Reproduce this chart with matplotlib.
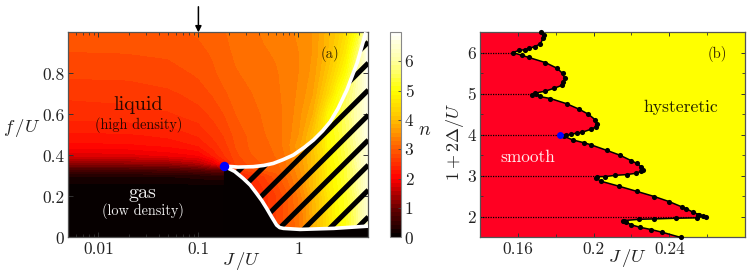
import numpy as np
import matplotlib
matplotlib.use('Agg')
import matplotlib.pyplot as plt
from matplotlib.colors import LinearSegmentedColormap
from matplotlib.patches import Polygon

plt.rcParams['font.family'] = ['cmr10', 'DejaVu Serif']
plt.rcParams['mathtext.fontset'] = 'cm'
plt.rcParams['axes.formatter.use_mathtext'] = True
plt.rcParams['axes.unicode_minus'] = False

# density n, one list per J column
J_grid = [0.005, 0.02, 0.05, 0.1, 0.14, 0.18, 0.24, 0.33, 0.45, 0.6, 0.8, 1, 1.4, 2, 2.5, 3, 4, 5]
f_grid = [0, 0.2, 0.25, 0.3, 0.33, 0.36, 0.4, 0.45, 0.5, 0.6, 0.7, 0.8, 0.9, 1.0]
n_a = [0, .02, .08, .3, .7, 1.2, 1.75, 2.1, 2.25, 2.5, 2.6, 2.75, 2.85, 2.95]
n_b = [0, .02, .08, .3, .7, 1.25, 1.8, 2.12, 2.27, 2.52, 2.62, 2.76, 2.86, 2.96]
n_c = [0, .02, .08, .3, .75, 1.3, 1.9, 2.18, 2.33, 2.55, 2.68, 2.8, 2.88, 2.97]
n_d = [0, .02, .1, .35, .85, 1.5, 2.0, 2.3, 2.45, 2.65, 2.78, 2.88, 2.95, 3.02]
n_e = [0, .03, .1, .4, 1.0, 1.8, 2.3, 2.5, 2.6, 2.75, 2.87, 2.97, 3.02, 3.07]
n_f = [0, .03, .1, .4, 1.0, 2.25, 2.55, 2.65, 2.72, 2.85, 2.97, 3.05, 3.1, 3.13]
n_g = [2.3, 2.3, 2.3, 2.3, 2.6, 2.75, 2.82, 2.88, 2.92, 3.0, 3.07, 3.13, 3.17, 3.2]
n_h = [2.3, 2.3, 2.35, 2.5, 2.8, 2.9, 2.98, 3.02, 3.03, 3.08, 3.13, 3.18, 3.22, 3.25]
n_i = [2.5, 2.5, 2.6, 2.7, 3.0, 3.02, 3.08, 3.1, 3.13, 3.16, 3.2, 3.23, 3.27, 3.3]
n_j = [2.7, 2.7, 2.8, 2.95, 3.05, 3.1, 3.15, 3.18, 3.2, 3.22, 3.25, 3.27, 3.3, 3.33]
n_k = [3.0, 3.0, 3.1, 3.2, 3.3, 3.33, 3.35, 3.4, 3.38, 3.35, 3.35, 3.35, 3.37, 3.4]
n_l = [3.2, 3.3, 3.4, 3.45, 3.5, 3.55, 3.6, 3.65, 3.55, 3.5, 3.45, 3.42, 3.42, 3.45]
n_m = [3.8, 3.9, 4.0, 4.0, 4.05, 4.05, 4.05, 4.1, 4.1, 3.85, 3.7, 3.62, 3.58, 3.58]
n_n = [4.5, 4.6, 4.7, 4.75, 4.75, 4.8, 4.85, 4.9, 4.95, 4.9, 4.4, 4.15, 4.0, 3.95]
n_o = [4.9, 5, 5, 5.05, 5.05, 5.1, 5.15, 5.2, 5.25, 5.3, 5.0, 4.6, 4.35, 4.2]
n_p = [5.1, 5.2, 5.3, 5.35, 5.35, 5.4, 5.45, 5.5, 5.55, 5.6, 5.5, 5.0, 4.7, 4.5]
n_q = [5.8, 5.9, 6, 6, 6, 6.1, 6.1, 6.1, 6.2, 6.2, 6.2, 6.1, 5.7, 5.2]
n_r = [6.5, 6.6, 6.6, 6.6, 6.7, 6.7, 6.7, 6.7, 6.8, 6.8, 6.8, 6.9, 6.9, 6.9]

# phase boundaries in panel (a)
crit_J = 0.18
crit_f = 0.348
upper_J = [0.18, 0.25, 0.353, 0.45, 0.561, 0.7, 0.891, 1.15, 1.415, 1.75, 2.08, 2.5, 3.06, 3.86, 4.68]
upper_f = [0.348, 0.343, 0.345, 0.351, 0.361, 0.379, 0.402, 0.44, 0.475, 0.52, 0.564, 0.63, 0.72, 0.85, 0.992]
lower_J = [0.18, 0.23, 0.28, 0.33, 0.381, 0.43, 0.481, 0.54, 0.606, 0.65, 0.707, 1.04, 2.25, 5]
lower_f = [0.348, 0.322, 0.288, 0.255, 0.215, 0.18, 0.142, 0.1, 0.06, 0.048, 0.044, 0.039, 0.044, 0.055]
stripe_f = [0.953, 0.851, 0.719, 0.597, 0.475, 0.353, 0.231, 0.1]

# panel (b) boundary
bound_J = [.2460, .2363, .2305, .2246, .2200, .2172, .2154, .2161, .2241, .2321, .2434, .2544, .2551, .2577, .2593,
           .2556, .2526, .2489, .2468, .2400, .2321, .2229, .2135, .2037, .2013, .2016, .2060, .2114, .2176, .2223,
           .2250, .2259, .2250, .2229, .2198, .2140, .2069, .1985, .1949, .1892, .1844, .1823, .1852, .1880, .1910,
           .1937, .1985, .2011, .2016, .2007, .1972, .1924, .1857, .1772, .1715, .1694, .1676, .1689, .1745, .1791,
           .1832, .1839, .1848, .1836, .1806, .1746, .1658, .1620, .1573, .1605, .1636, .1658, .1689, .1719, .1733,
           .1736, .1724]
bound_y = [1.50, 1.625, 1.69, 1.746, 1.805, 1.87, 1.89, 1.91, 1.94, 1.95, 1.966, 1.976, 2.04, 2.02, 1.99,
           2.056, 2.11, 2.20, 2.24, 2.37, 2.495, 2.62, 2.745, 2.87, 2.95, 2.98, 2.98, 3.01, 3.03, 3.06,
           3.105, 3.15, 3.225, 3.30, 3.37, 3.50, 3.62, 3.756, 3.805, 3.87, 3.96, 4.0, 3.99, 4.007, 4.04,
           4.055, 4.13, 4.185, 4.25, 4.37, 4.50, 4.62, 4.755, 4.88, 4.93, 4.98, 4.97, 5.01, 5.06, 5.13,
           5.20, 5.275, 5.37, 5.495, 5.62, 5.755, 5.88, 5.935, 6.0, 6.05, 6.07, 6.10, 6.145, 6.21, 6.35,
           6.43, 6.5]
dot_y = [2, 3, 4, 5, 6]
dot_J = [0.2544, 0.2013, 0.1823, 0.1676, 0.1573]

W, H = 748, 273
FRAME = '#555555'
TXT = '#222222'

cmap = LinearSegmentedColormap.from_list('dens', [(0, '#000000'), (1/7, '#6a0000'), (2/7, '#ff0000'), (3/7, '#ff5a00'),
                                                  (3.5/7, '#ff8c00'), (4/7, '#ffbe00'), (5/7, '#ffff00'),
                                                  (6/7, '#ffffa0'), (1, '#ffffff')])

fig = plt.figure(figsize=(W/100, H/100), dpi=100)
ax = fig.add_axes([68.3/W, 1-237.4/H, 300/W, 205/H])
n = np.array([n_a, n_b, n_c, n_d, n_e, n_f, n_g, n_h, n_i, n_j, n_k, n_l, n_m, n_n, n_o, n_p, n_q, n_r]).T
cs = ax.contourf(J_grid, f_grid, n, levels=np.linspace(0, 7, 50), cmap=cmap, vmin=0, vmax=7)
ax.set_xscale('log')
ax.set_xlim(0.005, 5)
ax.set_ylim(0, 1)

# gas side below the lower boundary
ax.fill(list(lower_J) + [5, 0.18], list(lower_f) + [0, 0], color='#050000', lw=0, zorder=2)

# stripes only between the two boundaries
region = Polygon(list(zip(upper_J + [5, 5], upper_f + [1.05, 0.055])) + list(zip(lower_J[::-1], lower_f[::-1])),
                 closed=True, transform=ax.transData, fc='none', ec='none')
ax.add_patch(region)
for s in stripe_f:
    line, = ax.plot([crit_J, 5], [s-0.70, s], color='black', lw=3.6, solid_capstyle='butt', zorder=3)
    line.set_clip_path(region)

ax.plot(upper_J, upper_f, color='white', lw=2.6, zorder=4)
ax.plot(lower_J, lower_f, color='white', lw=2.6, zorder=4)
ax.plot([crit_J], [crit_f], 'o', color='#0000ff', ms=6.8, mew=0, zorder=5, clip_on=False)

ax.set_xticks([0.01, 0.1, 1])
ax.set_xticklabels(['0.01', '0.1', '1'])
ax.set_yticks([0, 0.2, 0.4, 0.6, 0.8])
ax.set_yticklabels(['0', '0.2', '0.4', '0.6', '0.8'])
ax.tick_params(which='major', direction='in', top=True, right=True, length=3.5, width=0.7, color='#333333',
               labelsize=12.5, labelcolor=TXT, pad=3)
ax.tick_params(which='minor', direction='in', top=True, right=True, length=2, width=0.6, color='#333333')
for sp in ax.spines.values():
    sp.set_color(FRAME)
    sp.set_linewidth(0.9)

ax.text(0.0252, 0.645, 'liquid', fontsize=14.5, color='#2a0800', ha='center', va='center', zorder=6)
ax.text(0.0252, 0.548, '(high density)', fontsize=10.3, color='#2a0800', ha='center', va='center', zorder=6)
ax.text(0.0277, 0.218, 'gas', fontsize=14.5, color='#eeeeee', ha='center', va='center', zorder=6)
ax.text(0.0277, 0.13, '(low density)', fontsize=10.3, color='#eeeeee', ha='center', va='center', zorder=6)
ax.text(2.05, 0.894, '(a)', fontsize=10.5, color='#332200', ha='center', va='center', zorder=6)

ax.annotate('', xy=(0.1, 1.0), xytext=(0.1, 1.125), annotation_clip=False,
            arrowprops=dict(arrowstyle='-|>', color='black', lw=1.1, shrinkA=0, shrinkB=0, mutation_scale=9))

# colorbar
cax = fig.add_axes([389.5/W, 1-237.4/H, 11/W, 205.5/H])
cb = fig.colorbar(cs, cax=cax)
cb.set_ticks([0, 1, 2, 3, 4, 5, 6])
cb.set_ticklabels(['0', '1', '2', '3', '4', '5', '6'])
cax.tick_params(direction='in', length=2.5, width=0.6, color='#444444', labelsize=12.5, labelcolor=TXT, pad=3)
cb.outline.set_edgecolor('#888888')
cb.outline.set_linewidth(0.8)

# panel b
bx = fig.add_axes([480/W, 1-237.4/H, 265/W, 205.4/H])
bx.set_facecolor('#ffff00')
bx.fill([0.14] + bound_J + [0.14], [1.5] + bound_y + [6.5], color='#ff0022', lw=0, zorder=1)
for y0, j0 in zip(dot_y, dot_J):
    bx.plot([0.14, j0], [y0, y0], color='black', lw=0.9, ls=(0, (1, 1)), zorder=2)
bx.plot(bound_J, bound_y, '-o', color='black', lw=1.1, ms=3.7, mew=0, zorder=3, clip_on=False)
bx.plot([0.1823], [4.0], 'o', color='#0000ff', ms=5, mew=0, zorder=4)
bx.set_xlim(0.14, 0.28)
bx.set_ylim(1.5, 6.5)
bx.set_xticks([0.16, 0.2, 0.24])
bx.set_xticklabels(['0.16', '0.2', '0.24'])
bx.set_xticks([0.18, 0.22, 0.26], minor=True)
bx.set_yticks([2, 3, 4, 5, 6])
bx.set_yticklabels(['2', '3', '4', '5', '6'])
bx.set_yticks([2.5, 3.5, 4.5, 5.5], minor=True)
bx.tick_params(which='major', direction='in', top=True, right=True, length=3, width=0.7, color='#333333',
               labelsize=12.5, labelcolor=TXT, pad=3)
bx.tick_params(which='minor', direction='in', top=True, right=True, length=2, width=0.6, color='#333333')
for sp in bx.spines.values():
    sp.set_color(FRAME)
    sp.set_linewidth(0.9)
bx.text(0.2654, 5.96, '(b)', fontsize=10.5, color='#332200', ha='center', va='center')
bx.text(0.2459, 4.67, 'hysteretic', fontsize=12.7, color='#222200', ha='center', va='center')
bx.text(0.165, 3.45, 'smooth', fontsize=12.4, color='#ffeeee', ha='center', va='center')

# axis labels sit in figure pixels
fig.text(241.7/W, 1-261/H, r'$J\,/U$', fontsize=13.5, color=TXT, ha='center', va='center')
fig.text(21.7/W, 1-128/H, r'$f\,/U$', fontsize=13.5, color=TXT, ha='center', va='center')
fig.text(425/W, 1-130/H, r'$n$', fontsize=14, color=TXT, ha='center', va='center')
fig.text(627/W, 1-258/H, r'$J\,/U$', fontsize=13.5, color=TXT, ha='center', va='center')
fig.text(455/W, 1-142/H, r'$1+2\Delta/U$', fontsize=13, color=TXT, ha='center', va='center', rotation=90)

fig.savefig('out.png', dpi=100)
